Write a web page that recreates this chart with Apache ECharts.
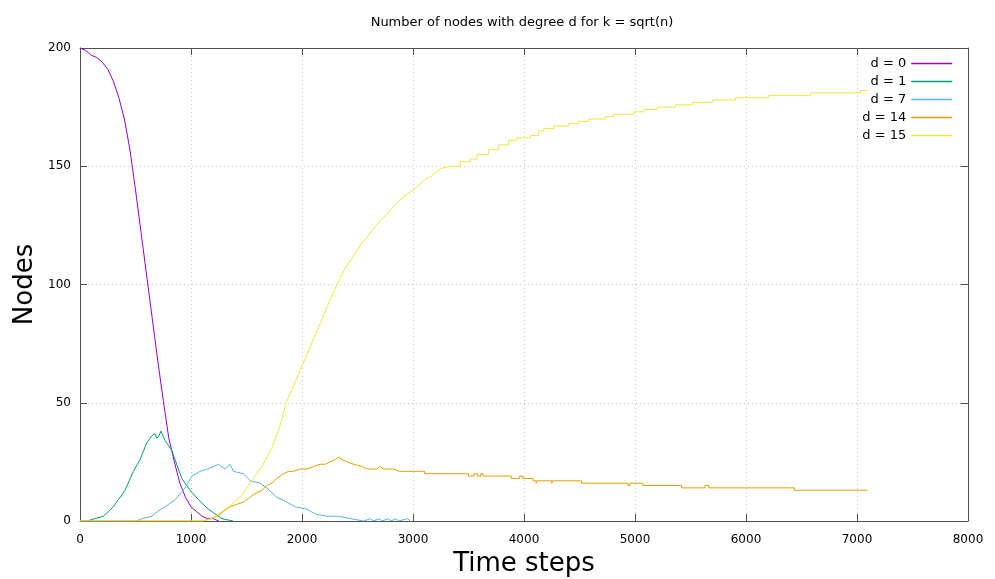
<!DOCTYPE html>
<html><head><meta charset="utf-8">
<script src="https://cdn.jsdelivr.net/npm/echarts@6/dist/echarts.min.js"></script>
<style>html,body{margin:0;padding:0;background:#fff}#c{width:995px;height:579px}</style>
</head><body><div id="c"></div>
<script>
// ---- data ----
const seriesNames = ['d = 0', 'd = 1', 'd = 7', 'd = 14', 'd = 15'];
const seriesColors = ['#9400d3', '#009e73', '#56b4e9', '#e69f00', '#f0e442'];

const d0X = [0,50,100,150,200,250,300,350,400,450,500,550,600,650,700,750,800,850,900,950,1000,1050,1100,1150,1200,1250];
const d0Y = [200,199,197,196,194,191,186,179,170,157,140,122,104,86,68,51,35,25,16,10,6,4,2,1,1,0];

const d1X = [0,60,135,210,255,300,345,406,481,541,601,646,676,691,710,730,766,826,871,917,992,1067,1157,1277,1380];
const d1Y = [0,0,1,2,4,6,9,13,21,26,33,36,37,35,36,38,34,30,24,18,13,9,5,1,0];

const d7X = [0,510,560,646,700,766,857,947,1007,1082,1150,1202,1247,1307,1352,1382,1473,1533,1623,1683,1773,1864,1939,2044,2119,2224,2330,2435,2555,2620,2640,2700,2720,2780,2800,2850,2870,2950,2976];
const d7Y = [0,0,1,2,4,6,9,14,19,21,22,23,24,22,24,21,20,17,16,14,10,8,6,5,3,2,2,1,0,1,0,1,0,1,0,1,0,1,0];

const d14X = [0,1110,1172,1232,1290,1352,1410,1473,1530,1593,1640,1683,1730,1773,1834,1880,1924,1984,2050,2105,2164,2210,2254,2300,2329,2360,2405,2465,2540,2585,2630,2675,2700,2740,2790,2826,2880,2946,3006];
const d14Y = [0,0,1,2,4,6,7,8,10,12,13,15,16,18,20,21,21,22,22,23,24,24,25,26,27,26,25,24,23,22,22,22,23,22,22,22,21,21,21];
// later part: the count changes in single steps
const d14StepX = [3006,3105,3500,3550,3580,3610,3630,3885,3960,3990,4082,4110,4116,4250,4258,4518,4936,4955,5070,5420,5630,5665,6435,7095];
const d14StepY = [21,20,19,20,19,20,19,18,19,18,17,16,17,16,17,16,15,16,15,14,15,14,13,13];

const d15X = [0,1110,1187,1277,1367,1458,1548,1638,1729,1800,1858,1950,2050,2150,2230,2314,2390,2465,2530,2585,2650,2705,2770,2825,2910,3006,3096,3170,3246,3336];
const d15Y = [0,0,1,4,7,11,17,23,31,40,50,60,71,82,91,100,107,112,117,120,124,127,130,133,137,140,144,146,149,150];
const d15StepX = [3336,3427,3517,3577,3682,3772,3862,3937,4058,4133,4178,4268,4403,4493,4584,4734,4809,4989,5079,5200,5365,5515,5696,5906,6207,6582,7030,7095];
const d15StepY = [150,152,153,155,157,159,161,162,163,165,166,167,168,169,170,171,172,173,174,175,176,177,178,179,180,181,182,182];

// ---- chart ----
const FONT = 'DejaVu Sans';
const zip = (xs, ys) => xs.map((x, i) => [x, ys[i]]);
function line(name, idx, xs, ys, step) {
  return {
    name: name, type: 'line', data: zip(xs, ys), step: step || false,
    symbol: 'none', showSymbol: false, animation: false,
    color: seriesColors[idx],
    lineStyle: { width: 1, color: seriesColors[idx] },
    z: 2 + idx
  };
}
const series = [
  line(seriesNames[0], 0, d0X, d0Y),
  line(seriesNames[1], 1, d1X, d1Y),
  line(seriesNames[2], 2, d7X, d7Y),
  line(seriesNames[3], 3, d14X, d14Y),
  line(seriesNames[3], 3, d14StepX, d14StepY, 'end'),
  line(seriesNames[4], 4, d15X, d15Y),
  line(seriesNames[4], 4, d15StepX, d15StepY, 'end')
];

const axisCol = '#505050';
const gridLine = { show: true, lineStyle: { color: '#c8c8c8', type: [1, 3], width: 1 } };
const option = {
  animation: false,
  backgroundColor: '#fff',
  title: {
    text: 'Number of nodes with degree d for k = sqrt(n)',
    left: 517, top: 11, textAlign: 'center',
    textStyle: { fontFamily: FONT, fontSize: 13, fontWeight: 'normal', color: '#000' }
  },
  legend: {
    data: seriesNames, orient: 'vertical', align: 'right',
    right: 42, top: 57, padding: 0, itemGap: 5, itemWidth: 41, itemHeight: 14,
    itemStyle: { opacity: 0 },
    lineStyle: { width: 1.5 },
    textStyle: { fontFamily: FONT, fontSize: 13, color: '#000' }
  },
  grid: { left: 80, right: 27, top: 48, bottom: 58, outerBoundsMode: 'none' },
  xAxis: [{
    type: 'value', min: 0, max: 8000, interval: 1000,
    name: 'Time steps', nameLocation: 'middle', nameGap: 30, nameMoveOverlap: false,
    nameTextStyle: { fontFamily: FONT, fontSize: 26, color: '#000' },
    axisLine: { show: true, onZero: false, lineStyle: { color: axisCol, width: 1 } },
    axisTick: { show: true, inside: true, length: 7, lineStyle: { color: axisCol } },
    axisLabel: { fontFamily: FONT, fontSize: 12, color: '#000', margin: 13, formatter: v => String(v) },
    splitLine: gridLine
  }, {
    type: 'value', min: 0, max: 8000, interval: 1000, position: 'top',
    axisLine: { show: true, onZero: false, lineStyle: { color: axisCol, width: 1 } },
    axisTick: { show: true, inside: true, length: 7, lineStyle: { color: axisCol } },
    axisLabel: { show: false }, splitLine: { show: false }
  }],
  yAxis: [{
    type: 'value', min: 0, max: 200, interval: 50,
    name: 'Nodes', nameLocation: 'middle', nameGap: 42, nameMoveOverlap: false,
    nameTextStyle: { fontFamily: FONT, fontSize: 26, color: '#000' },
    axisLine: { show: true, onZero: false, lineStyle: { color: axisCol, width: 1 } },
    axisTick: { show: true, inside: true, length: 7, lineStyle: { color: axisCol } },
    axisLabel: { fontFamily: FONT, fontSize: 12, color: '#000', margin: 9 },
    splitLine: gridLine
  }, {
    type: 'value', min: 0, max: 200, interval: 50, position: 'right',
    axisLine: { show: true, onZero: false, lineStyle: { color: axisCol, width: 1 } },
    axisTick: { show: true, inside: true, length: 7, lineStyle: { color: axisCol } },
    axisLabel: { show: false }, splitLine: { show: false }
  }],
  series: series
};
const chart = echarts.init(document.getElementById('c'), null, { renderer: 'canvas' });
chart.setOption(option);
</script>
</body></html>
